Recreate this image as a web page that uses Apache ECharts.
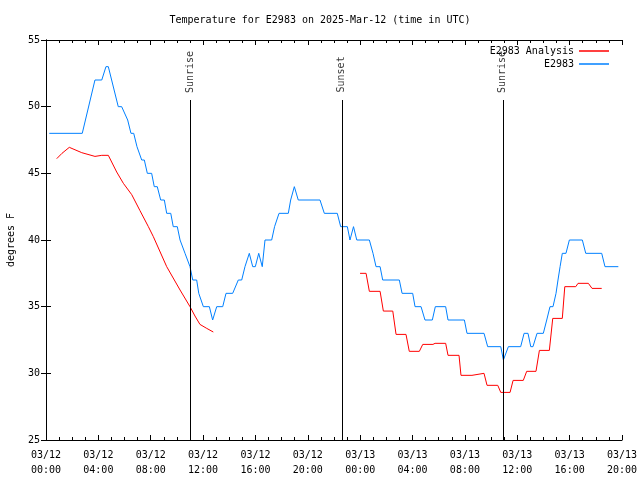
<!DOCTYPE html>
<html>
<head>
<meta charset="utf-8">
<script src="https://cdn.jsdelivr.net/npm/echarts@6/dist/echarts.min.js"></script>
<style>html,body{margin:0;padding:0;background:#fff}#c{width:640px;height:480px}</style>
</head>
<body>
<div id="c"></div>
<script>
// Hours since 03/12 00:00 UTC
var xTickHours = [0, 4, 8, 12, 16, 20, 24, 28, 32, 36, 40, 44];
var blueHours = [0.25,2.77,3.74,4.26,4.58,4.76,5.52,5.78,6.24,6.49,6.70,6.95,7.31,7.51,7.74,8.07,8.27,8.50,8.76,9.04,9.22,9.53,9.72,10.03,10.24,10.62,11.00,11.21,11.51,11.67,12.02,12.48,12.73,13.04,13.50,13.75,14.26,14.69,14.95,15.20,15.53,15.79,15.99,16.25,16.52,16.73,17.24,17.46,17.80,18.51,18.69,18.97,19.27,20.93,21.26,22.25,22.51,23.02,23.22,23.49,23.74,24.70,24.98,25.21,25.52,25.72,26.99,27.20,28.01,28.19,28.65,28.95,29.51,29.74,30.53,30.71,31.96,32.16,33.46,33.74,34.74,34.94,35.32,36.26,36.52,36.82,37.03,37.20,37.51,37.99,38.25,38.50,38.73,38.96,39.11,39.27,39.44,39.72,39.98,40.97,41.23,42.45,42.70,43.72];
var blueTemps = [48,48,52,52,53,53,50,50,49,48,48,47,46,46,45,45,44,44,43,43,42,42,41,41,40,39,38,37,37,36,35,35,34,35,35,36,36,37,37,38,39,38,38,39,38,40,40,41,42,42,43,44,43,43,42,42,41,41,40,41,40,40,39,38,38,37,37,36,36,35,35,34,34,35,35,34,34,33,33,32,32,31,32,32,33,33,32,32,33,33,34,35,35,36,37,38,39,39,40,40,39,39,38,38];
var redHours1 = [0.82,1.22,1.78,2.73,3.74,4.26,4.76,5.40,5.91,6.55,7.18,7.82,8.20,9.22,10.24,11.00,11.38,11.76,12.28,12.78];
var redTemps1 = [46.1,46.5,46.95,46.55,46.27,46.35,46.35,45.1,44.25,43.4,42.2,41.0,40.25,38.0,36.25,35.0,34.3,33.67,33.37,33.1];
var redHours2 = [23.99,24.45,24.70,25.52,25.77,26.49,26.74,27.50,27.75,28.52,28.78,29.56,29.72,30.53,30.71,31.55,31.70,32.54,32.67,33.46,33.69,34.51,34.74,35.45,35.68,36.46,36.72,37.43,37.69,38.45,38.71,39.44,39.63,40.47,40.64,41.43,41.71,42.45];
var redTemps2 = [37.5,37.5,36.15,36.15,34.67,34.67,32.92,32.92,31.65,31.65,32.17,32.17,32.25,32.25,31.35,31.35,29.85,29.85,30.0,30.0,29.1,29.1,28.57,28.57,29.47,29.47,30.15,30.15,31.72,31.72,34.12,34.12,36.5,36.5,36.75,36.75,36.37,36.37];
var eventHours = [11.0, 22.6, 34.9];
var eventNames = ['Sunrise', 'Sunset', 'Sunrise'];
var eventLabelY = [52.6, 52.42, 52.6];
var eventLineTop = 50.5;
var yTicks = [25, 30, 35, 40, 45, 50, 55];

function pairs(xs, ys) { return xs.map(function (x, i) { return [x, ys[i]]; }); }
function pad(n) { return (n < 10 ? '0' : '') + n; }
var FONT = 'DejaVu Sans Mono';
var RED = '#ff0000', BLUE = '#0080ff';

var chart = echarts.init(document.getElementById('c'), null, {renderer: 'canvas'});
var axisCommon = {
  type: 'value', min: 0, max: 44, interval: 4,
  axisLine: {show: true, onZero: false, lineStyle: {color: '#000', width: 1}},
  axisTick: {show: true, inside: true, length: 5, lineStyle: {color: '#000'}},
  minorTick: {show: true, splitNumber: 4, length: 3, lineStyle: {color: '#000'}},
  splitLine: {show: false}
};
var option = {
  animation: false,
  backgroundColor: '#fff',
  title: {
    text: 'Temperature for E2983 on 2025-Mar-12 (time in UTC)',
    left: 'center', top: 10,
    textStyle: {fontFamily: FONT, fontSize: 10, fontWeight: 'normal', color: '#000'}
  },
  legend: [
    {data: ['E2983 Analysis'], orient: 'vertical', right: 26, top: 41, itemWidth: 30, itemHeight: 1.5, itemGap: 2,
     align: 'right', icon: 'rect', textStyle: {fontFamily: FONT, fontSize: 10, color: '#000'}},
    {data: ['E2983'], orient: 'vertical', right: 26, top: 54, itemWidth: 30, itemHeight: 1.5, itemGap: 2,
     align: 'right', icon: 'rect', textStyle: {fontFamily: FONT, fontSize: 10, color: '#000'}}
  ],
  grid: {left: 46, right: 18, top: 40, bottom: 40, containLabel: false, outerBoundsMode: 'none'},
  xAxis: [
    Object.assign({}, axisCommon, {
      position: 'bottom',
      axisLabel: {
        show: true, margin: 8, fontFamily: FONT, fontSize: 10, color: '#000', lineHeight: 15,
        formatter: function (v) {
          var d = v < 24 ? '03/12' : '03/13';
          return d + '\n' + pad(v % 24) + ':00';
        }
      }
    }),
    Object.assign({}, axisCommon, {position: 'top', axisLabel: {show: false}})
  ],
  yAxis: [
    {
      type: 'value', min: 25, max: 55, interval: 5, position: 'left',
      name: 'degrees F', nameLocation: 'middle', nameRotate: 90, nameGap: 30,
      nameTextStyle: {fontFamily: FONT, fontSize: 10, color: '#000'},
      axisLine: {show: true, lineStyle: {color: '#000'}},
      axisTick: {show: true, inside: true, length: 5, lineStyle: {color: '#000'}},
      axisLabel: {fontFamily: FONT, fontSize: 10, color: '#000', margin: 6},
      splitLine: {show: false}
    },
    {
      type: 'value', min: 25, max: 55, interval: 5, position: 'right',
      axisLine: {show: true, lineStyle: {color: '#000'}},
      axisTick: {show: true, inside: true, length: 5, lineStyle: {color: '#000'}},
      axisLabel: {show: false},
      splitLine: {show: false}
    }
  ],
  series: [
    {
      name: 'E2983 Analysis', type: 'line', showSymbol: false, symbol: 'none',
      color: RED, lineStyle: {color: RED, width: 1}, data: pairs(redHours1, redTemps1)
    },
    {
      name: 'E2983 Analysis', type: 'line', showSymbol: false, symbol: 'none',
      color: RED, lineStyle: {color: RED, width: 1}, data: pairs(redHours2, redTemps2)
    },
    {
      name: 'E2983', type: 'line', showSymbol: false, symbol: 'none',
      color: BLUE, lineStyle: {color: BLUE, width: 1}, data: pairs(blueHours, blueTemps),
      markLine: {
        silent: true, symbol: ['none', 'none'], animation: false,
        lineStyle: {color: '#000', width: 1, type: 'solid'},
        label: {show: false},
        data: eventHours.map(function (h) { return [{coord: [h, 25]}, {coord: [h, eventLineTop]}]; })
      }
    },
    {
      type: 'scatter', symbolSize: 0, silent: true,
      data: eventHours.map(function (h, i) { return [h, eventLabelY[i]]; }),
      label: {
        show: true, position: 'inside', rotate: 90, fontFamily: FONT, fontSize: 10, color: '#000',
        formatter: function (p) { return eventNames[p.dataIndex]; }
      }
    }
  ]
};
chart.setOption(option);
</script>
</body>
</html>
